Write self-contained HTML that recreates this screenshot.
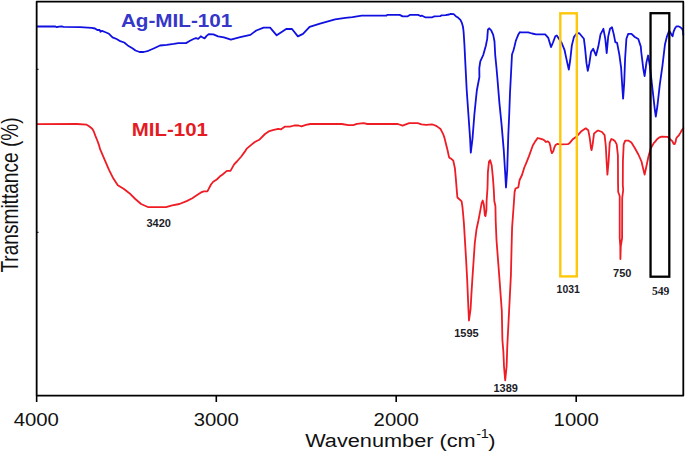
<!DOCTYPE html>
<html><head><meta charset="utf-8"><style>
html,body{margin:0;padding:0;background:#fff;}
body{width:685px;height:452px;overflow:hidden;}
svg{display:block;}
text{font-family:"Liberation Sans", sans-serif;}
</style></head><body>
<svg width="685" height="452" viewBox="0 0 685 452">
<rect x="0" y="0" width="685" height="452" fill="#fff"/>
<!-- curves -->
<polyline points="37.4,26.5 55.4,26.4 56.7,27.2 59,26.6 61.6,26.3 63.4,26.9 80,27.2 91.7,27.8 95,28.5 97.3,30 99.7,30 100.5,31.8 102,30.8 104.9,32 109,33.8 112.5,37.3 116.6,39 119.5,40.8 124.2,42.5 127.7,45.4 132.4,48.2 135.5,50.5 139.6,52 143.7,52 148.4,50.8 154.2,48.2 160,45.5 166.7,44.9 173.7,43.9 178.4,43.1 186,43.1 190,40.8 193.5,39 195.9,38.1 198.2,38.8 200.8,36.3 202.3,37.3 204.6,38.4 206.4,36.1 208.7,34.1 213.4,34.3 218.1,36.3 223.9,37.3 230.9,39.6 240.2,37.2 250.4,34.9 256.3,30.5 263.6,27.7 270.1,27.7 276.7,35.3 286.2,29 292,29 297.9,36.4 303,33.9 309.6,26.9 317.6,24.4 320,23.6 335.1,19.3 345.3,17.8 352.5,17.1 361.7,15.7 386.2,15.7 387.2,14.9 399.6,14.9 402.7,16.4 407.3,16.4 409.8,14.9 418,14.9 420.5,16 422.1,15.7 425.1,17.3 432.3,17.3 434.3,16.4 440,16.2 441.5,15.4 445.6,15.2 449.1,14.5 450.7,13.9 453.7,14.2 455.8,16.2 458.3,17.8 460.4,19.8 461.9,22.9 462.9,26.5 463.4,30 463.7,33.2 464.4,44.2 465.5,66.4 466.7,90 468.4,114.3 470.1,138.6 470.8,152.7 472.5,138.6 474.4,114.3 476.1,97.3 476.9,90 479.4,77 479.3,68 480.3,61.4 483.3,54.8 485.9,45.5 487.2,38.9 487.9,29.6 489.2,28.3 491.2,30.3 493.2,34.9 494.5,41.5 495.2,54.8 496.5,68 497.2,76 499.4,102.9 501.6,124.9 503.8,150.7 505.3,175 506,187.5 507.2,170.2 508.3,135 509.2,115 510,93 511.2,70 512,54.5 513.5,50.2 514.4,46.8 515.8,40.9 516.8,38.3 518.2,34.8 519.8,32.2 520.5,32.4 528.2,32.4 532.1,33.5 535.9,34.3 545.2,34.3 548.3,37.9 551,47.1 553,42.5 555.3,36.3 556.8,35.5 558.4,37.9 561.5,42.5 564.6,50.2 566.9,61.1 568.8,69.6 570.3,59.5 571.8,45.6 573.9,37.1 576.2,34 577.2,33.3 579.3,33.2 581.6,36 583.9,38.8 585,47.7 586.5,63.2 587.8,70.9 589.4,63.2 591,52.1 593.2,48.8 596,55.4 598.3,46.6 600.5,34.4 603.4,28.8 605.3,38.8 606.7,53.2 608.2,36.6 610,28.8 612,27.3 613.8,34.4 615.3,42.1 617.1,42.8 619.3,54.3 621.1,67.6 622.2,85.3 623.1,98.6 624.2,83.1 625.1,58.7 626.4,38.8 628.2,33.9 631.5,33.9 634.8,37 638.3,39 640.8,46.6 641.2,51.5 643.3,68.8 644.6,76.2 646.5,62.1 648.1,55.5 649.9,66.1 652.6,90 654.7,108.6 655.8,116.6 657.4,106 659.8,84.7 662.4,66.1 665,44.2 667,36.3 669,31 670.3,32.3 671.6,34.9 672.6,36.3 673.6,31.6 675,28.3 676.6,26.3 678.3,26.3 680.3,27.3 682,28.6 683,31 683.3,35" fill="none" stroke="#1010e0" stroke-width="1.8" stroke-linejoin="round" stroke-linecap="round"/>
<polyline points="37.4,124.1 76.9,124 86.6,124.7 89.1,126.2 92.2,128.8 93.7,131.3 95.2,135.4 97.3,140.5 98.8,144.6 100.2,149.4 104.6,159.6 109,169.9 113.4,178.6 117.8,185.3 123.6,188.8 129.4,193.2 135.3,199 141.1,204 148.4,207.2 166,207.2 172.2,205.4 179.4,204 186.6,201.1 192.3,198.2 196.7,195.3 201,192.4 203.8,191.3 207.4,191.3 211,184.5 213.2,181.7 216.8,179.5 219.7,176.6 222.6,174.5 226.9,170.9 230.5,170.9 234.1,164.4 236.9,161.5 241.3,156.5 245,151.4 246.8,148.6 251.2,144.9 254.8,142 259.2,139.8 265,134 269.4,131.1 273.8,129.9 278.2,128.9 281.1,129.3 284.7,126.7 289.9,126.7 294.2,125.5 298.6,125.5 301.5,126.4 305.9,124.9 310.3,124 341.8,124 348.5,125.2 353.2,125.2 357,123.9 363.7,123.2 367.4,124 397.8,124 402.6,125.6 409.2,123.2 417.7,123.2 421.5,124.4 426.3,124.8 432,124.4 434,125 436.7,126.1 440.5,129 441.5,130.9 443.4,134.7 444.5,137.9 445,140 447.5,150 449.1,157.4 451.6,159.1 453.3,160.7 454.9,168.2 455.8,178.1 456.6,188.1 457.4,197.5 459.9,199.7 461.6,201.4 462.4,206.3 463.2,215 463.9,223.1 465.9,256.3 467.2,280 467.8,294.4 468.4,308.8 469,320.5 470.6,308.8 471.4,294.4 472.3,280 474.8,243 476.6,228.7 478.3,221 480,212.1 481.6,203.3 482.7,200.5 483.8,204.4 484.9,215.4 485.5,216 486.4,210 486.6,201 487.5,188 487.9,172.1 489,161.5 490.2,160.2 491.7,165.5 493,178.7 493.8,190 494.3,201 495.4,206 495.7,221 496.5,240 499.2,275.4 501.8,310.9 502.4,340 503.4,352 504,366.5 505.2,380.4 506.6,366.5 507.3,346 507.6,340 509.1,310.9 510.9,275.4 511.5,250 512.1,227.5 513.7,205.3 514.6,192 515.5,188.5 518.3,187.4 519.6,180 522,175 524.3,167.5 525.8,164.1 528.9,156.4 532.8,145.5 535.1,141.6 537.7,138 540,138.6 542.6,139.3 544.6,140.6 546,142 547.6,141.3 549.3,142.6 550.3,145.9 550.9,149.9 551.9,153.2 553.3,151.2 554.2,147.9 555.6,144.9 557.2,143.9 559.9,144.3 567.8,144.2 569.8,142.9 573.1,138.9 577,136.2 581,131.6 585.7,128.3 588.3,130.3 589.7,137.6 591,148.2 591.6,150.2 592.7,144.2 594,133.6 596.3,131.6 598.1,130.5 602,132 604.6,135.1 605.8,146 606.6,161.5 607.4,174.6 608.6,161.5 609.7,142.9 611.3,139 612.8,139.5 615.1,141.3 616.7,144.4 617.9,155.3 618,170 618,180 618.2,192 619.7,196 619.7,238 620.3,246 620.4,259 620.8,246 622.1,238 622.2,198 623.2,190 622.8,185 622.9,161.5 623.7,144.4 625.2,140.6 628.3,140.6 631.4,142.6 634.5,147.5 638.4,154.5 641.5,161.5 643.3,169.2 644.6,174.6 646.1,167.7 648.4,156.8 650.8,148.3 653.9,142.9 655,141.9 657,139.2 659.6,137.3 661.6,136.6 667.6,136.9 670.6,139.6 672.3,141.2 673.6,143.9 674.6,144.2 675.6,141.9 676.2,138.6 677.6,136.6 678.9,135.3 680.5,132.6 681.9,130 683.3,128.3" fill="none" stroke="#ee1c24" stroke-width="1.8" stroke-linejoin="round" stroke-linecap="round"/>
<!-- boxes -->
<rect x="560.3" y="13.3" width="16.5" height="263.1" fill="none" stroke="#fec80a" stroke-width="2.4"/>
<rect x="650.55" y="13.2" width="18.75" height="263.5" fill="none" stroke="#000" stroke-width="2.3"/>
<!-- frame -->
<path d="M36.65,1.7 H683.3 V395.6 H36.65 Z" fill="none" stroke="#000" stroke-width="1.8" stroke-linejoin="round"/>
<!-- ticks -->
<path d="M36.65,395.5 V402 M216.3,395.5 V402 M396.2,395.5 V402 M576.2,395.5 V402" stroke="#000" stroke-width="1.6"/>
<path d="M36.65,69.3 H38.6 M36.65,232.3 H38.6" stroke="#000" stroke-width="1"/>
<!-- tick labels -->
<g font-size="18" fill="#111" text-anchor="middle">
<text transform="translate(36.3,0) scale(1.13,1)" x="0" y="425.7">4000</text>
<text transform="translate(216.3,0) scale(1.13,1)" x="0" y="425.7">3000</text>
<text transform="translate(396.2,0) scale(1.13,1)" x="0" y="425.7">2000</text>
<text transform="translate(576.2,0) scale(1.13,1)" x="0" y="425.7">1000</text>
</g>
<g transform="translate(305.5,0) scale(1.207,1)" font-size="18" fill="#111">
<text x="-0.3" y="446.6">Wavenumber (cm</text>
<text x="141.4" y="437.6" font-size="12">-</text>
<text x="145.2" y="437.6" font-size="12">1</text>
<text x="151.5" y="446.6">)</text>
</g>
<text transform="translate(18,195) scale(1.23,1) rotate(-90)" font-size="19.1" fill="#111" text-anchor="middle">Transmittance (%)</text>
<!-- legend labels -->
<text transform="translate(176.6,0) scale(1.148,1)" x="0" y="26.9" font-size="18" font-weight="bold" fill="#3636c8" text-anchor="middle">Ag-MIL-101</text>
<text transform="translate(169.8,0) scale(1.17,1)" x="0" y="136.3" font-size="17.5" font-weight="bold" fill="#e51b23" text-anchor="middle">MIL-101</text>
<!-- peak labels -->
<g font-size="11" font-weight="bold" fill="#1c1c28" text-anchor="middle">
<text x="158.7" y="226.7">3420</text>
<text x="466.5" y="336.8">1595</text>
<text x="505.7" y="392.4">1389</text>
<text transform="translate(568.2,0) scale(0.95,1)" x="0" y="292.7">1031</text>
<text x="622.2" y="276.9">750</text>
<text x="660.7" y="294.8" style='font-family:"Liberation Serif", serif' font-size="11.7">549</text>
</g>
</svg>
</body></html>
